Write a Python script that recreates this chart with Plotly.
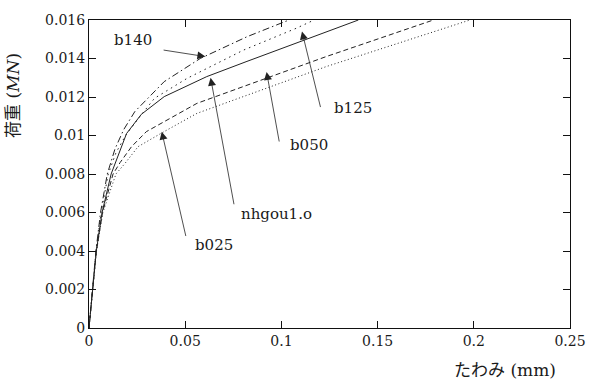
import plotly.graph_objects as go

# ---- data (deflection mm, load MN) ----
b140_x = [0, 0.0018, 0.0036, 0.0060, 0.0095, 0.0135, 0.0180, 0.0238, 0.0391, 0.0578, 0.0821, 0.0974, 0.1040]
b140_y = [0, 0.0020, 0.0040, 0.0060, 0.0080, 0.0093, 0.0103, 0.01124, 0.0128, 0.0140, 0.01513, 0.01574, 0.0160]

b125_x = [0, 0.0018, 0.0037, 0.0063, 0.0100, 0.0140, 0.0190, 0.0250, 0.0340, 0.0510, 0.0804, 0.1077, 0.1170]
b125_y = [0, 0.0020, 0.0040, 0.0060, 0.0080, 0.0091, 0.0100, 0.0108, 0.01193, 0.01297, 0.01444, 0.01557, 0.0160]

nhgou_x = [0, 0.0018, 0.0038, 0.0068, 0.0115, 0.0195, 0.0272, 0.0391, 0.0612, 0.0821, 0.1100, 0.1400]
nhgou_y = [0, 0.0020, 0.0040, 0.0060, 0.0080, 0.0101, 0.0111, 0.01202, 0.01306, 0.01385, 0.01490, 0.0160]

b050_x = [0, 0.0018, 0.0038, 0.0070, 0.0125, 0.0162, 0.0221, 0.0298, 0.0391, 0.0561, 0.1230, 0.1790]
b050_y = [0, 0.0020, 0.0040, 0.0060, 0.0080, 0.0086, 0.00942, 0.0102, 0.01072, 0.01167, 0.01409, 0.0160]

b025_x = [0, 0.0018, 0.0039, 0.0072, 0.0140, 0.0187, 0.0255, 0.0374, 0.0561, 0.1230, 0.1980]
b025_y = [0, 0.0020, 0.0040, 0.0060, 0.0080, 0.00855, 0.00942, 0.01011, 0.01115, 0.01357, 0.0160]

x_tickvals = [0, 0.05, 0.1, 0.15, 0.2, 0.25]
x_ticktext = ["0", "0.05", "0.1", "0.15", "0.2", "0.25"]
y_tickvals = [0, 0.002, 0.004, 0.006, 0.008, 0.01, 0.012, 0.014, 0.016]
y_ticktext = ["0", "0.002", "0.004", "0.006", "0.008", "0.01", "0.012", "0.014", "0.016"]

# curve labels with arrows
labels = ["b140", "b125", "nhgou1.o", "b050", "b025"]
label_x = [0.0117, 0.1262, 0.0780, 0.1036, 0.0540]
label_y = [0.01495, 0.01143, 0.00592, 0.00950, 0.00430]
tail_x = [0.0380, 0.1205, 0.0755, 0.0990, 0.0505]
tail_y = [0.01445, 0.01140, 0.00635, 0.00961, 0.00470]
tip_x = [0.0605, 0.1107, 0.0632, 0.0923, 0.0378]
tip_y = [0.01410, 0.01540, 0.01300, 0.01330, 0.01020]

series = [
    ("b140", b140_x, b140_y, "7px,3px,1.5px,3px"),
    ("b125", b125_x, b125_y, "1.5px,4px"),
    ("nhgou1.o", nhgou_x, nhgou_y, "solid"),
    ("b050", b050_x, b050_y, "5px,3px"),
    ("b025", b025_x, b025_y, "1px,2.5px"),
]

fig = go.Figure()
for name, xs, ys, dash in series:
    fig.add_trace(go.Scatter(x=xs, y=ys, mode="lines", name=name,
                             line=dict(color="#222222", width=1, dash=dash),
                             showlegend=False))

serif = "DejaVu Serif"
font_main = dict(family=serif, size=15, color="#1a1a1a")

for i, t in enumerate(labels):
    fig.add_annotation(x=tip_x[i], y=tip_y[i], ax=tail_x[i], ay=tail_y[i],
                       xref="x", yref="y", axref="x", ayref="y", text="",
                       showarrow=True, arrowhead=2, arrowsize=2.0, arrowwidth=0.8,
                       arrowcolor="#222222", standoff=0, startstandoff=0)
    fig.add_annotation(x=label_x[i], y=label_y[i], xref="x", yref="y", text=t,
                       showarrow=False, font=font_main, xanchor="left", yanchor="middle")

title_font = dict(family="DejaVu Serif, Noto Sans CJK JP", size=17, color="#1a1a1a")
fig.add_annotation(xref="paper", yref="paper", x=0.9755, y=-0.136, xanchor="right", yanchor="middle",
                   text="たわみ (mm)", showarrow=False, font=title_font)
fig.add_annotation(xref="paper", yref="paper", x=-0.157, y=0.755, xanchor="center", yanchor="middle",
                   text="荷重 (<i>MN</i>)", textangle=-90, showarrow=False, font=title_font)

axis_common = dict(showgrid=False, zeroline=False, showline=True, linecolor="#111111", linewidth=1,
                   mirror="ticks", ticks="inside", ticklen=7, tickcolor="#111111", tickwidth=1,
                   tickfont=dict(family=serif, size=14, color="#1a1a1a"))

fig.update_xaxes(range=[0, 0.25], tickmode="array", tickvals=x_tickvals, ticktext=x_ticktext, **axis_common)
fig.update_yaxes(range=[0, 0.016], tickmode="array", tickvals=y_tickvals, ticktext=y_ticktext, **axis_common)

fig.update_layout(width=598, height=379, margin=dict(l=89, r=19, t=20, b=51),
                  plot_bgcolor="white", paper_bgcolor="white", font=dict(family=serif))

fig.write_html("out.html", config={"displayModeBar": False},
               post_script="document.body.style.margin='0px';document.body.style.overflow='hidden';")
